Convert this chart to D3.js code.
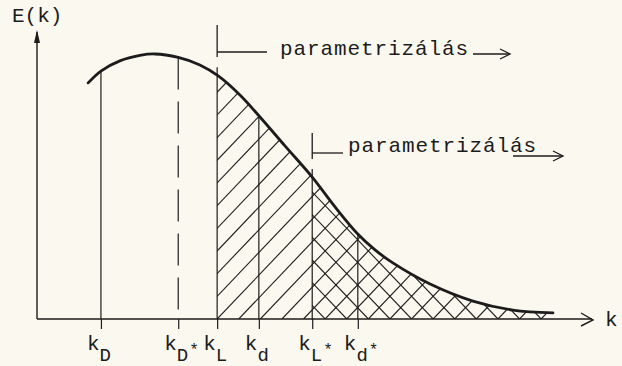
<!DOCTYPE html>
<html>
<head>
<meta charset="utf-8">
<script src="https://cdn.jsdelivr.net/npm/d3@7"></script>
<style>
  html, body { margin: 0; padding: 0; background: #fbf8f0; }
  svg { display: block; }
  text { font-family: "Liberation Mono", "DejaVu Sans Mono", monospace; fill: #1c1c1c; }
</style>
</head>
<body>
<svg id="chart" width="622" height="366"></svg>
<script>
// E(k) curve, sampled along k (arbitrary units 0..100)
const curveK = [9.2, 11.5, 14.9, 18.5, 21.2, 25.4, 29.3, 32.6, 36.5, 40.1, 44.6, 49.5, 53.6, 57.7, 60.8, 64.0, 70.7, 78.4, 85.6, 92.8];
const curveE = [81.7, 85.8, 89.3, 91.2, 91.7, 90.5, 87.9, 84.1, 77.5, 69.9, 59.9, 49.1, 38.8, 29.4, 23.9, 19.4, 12.1, 6.2, 3.1, 2.1];

// characteristic wave numbers on the k axis
const markerK     = [11.5, 25.4, 32.4, 39.9, 49.5, 57.7];
const markerSub   = ["D", "D", "L", "d", "L", "d"];
const markerStar  = [false, true, false, false, true, true];
const markerDash  = [false, true, false, false, false, false];

// parametrised ranges start at k_L and k_L*
const paramStartK = [32.4, 49.5];
const paramLabel  = ["parametrizálás", "parametrizálás"];

const ink = "#1c1c1c";
const svg = d3.select("#chart");

const x = d3.scaleLinear().domain([0, 100]).range([37, 593]);
const y = d3.scaleLinear().domain([0, 100]).range([319, 30]);

const pts = curveK.map((k, i) => [k, curveE[i]]);
const kEnd = curveK[curveK.length - 1];

// linear lookup of E at k
function eAt(k) {
  const i = Math.max(1, Math.min(curveK.length - 1, d3.bisectLeft(curveK, k)));
  const t = (k - curveK[i - 1]) / (curveK[i] - curveK[i - 1]);
  return curveE[i - 1] + t * (curveE[i] - curveE[i - 1]);
}

const line = d3.line().x(d => x(d[0])).y(d => y(d[1])).curve(d3.curveCatmullRom.alpha(0.5));
const area = d3.area().x(d => x(d[0])).y0(y(0)).y1(d => y(d[1])).curve(d3.curveCatmullRom.alpha(0.5));

const defs = svg.append("defs");
defs.append("clipPath").attr("id", "under").append("path").attr("d", area(pts));
paramStartK.forEach((k, i) => {
  defs.append("clipPath").attr("id", "from" + i).append("rect")
    .attr("x", x(k)).attr("y", 0).attr("width", x(kEnd) - x(k) + 2).attr("height", y(0));
});

// hatching: "/" from k_L, additional "\" from k_L*
const step = 21.6, slope = 1.05, base = y(0);
const offsets = d3.range(-20, 25).map(n => x(paramStartK[0]) + n * step);

const hatchA = svg.append("g").attr("clip-path", "url(#from0)")
  .append("g").attr("clip-path", "url(#under)");
hatchA.selectAll("line").data(offsets).join("line")
  .attr("x1", d => d).attr("y1", base)
  .attr("x2", d => d + 320).attr("y2", base - 320 * slope)
  .attr("stroke", ink).attr("stroke-width", 1.1);

const hatchB = svg.append("g").attr("clip-path", "url(#from1)")
  .append("g").attr("clip-path", "url(#under)");
hatchB.selectAll("line").data(offsets).join("line")
  .attr("x1", d => d).attr("y1", base)
  .attr("x2", d => d - 320).attr("y2", base - 320 * slope)
  .attr("stroke", ink).attr("stroke-width", 1.1);

// marker verticals, from the curve down through the axis
const markers = markerK.map((k, i) => ({ k, sub: markerSub[i], star: markerStar[i], dash: markerDash[i],
  param: paramStartK.includes(k) }));
svg.append("g").selectAll("line").data(markers).join("line")
  .attr("x1", d => x(d.k)).attr("x2", d => x(d.k))
  .attr("y1", d => y(eAt(d.k)) - (d.param ? 8 : 0))
  .attr("y2", y(0))
  .attr("stroke", ink).attr("stroke-width", 1.2)
  .attr("stroke-dasharray", d => d.dash ? "32,12" : null);

// x axis with ticks at the markers
const xAxis = d3.axisBottom(x).tickValues(markerK).tickSize(10).tickSizeOuter(0).tickFormat("");
const gx = svg.append("g").attr("transform", `translate(0,${y(0)})`).call(xAxis);
gx.select(".domain").attr("stroke", ink).attr("stroke-width", 1.4).attr("d", `M${x(0)},0H${x(100) - 1}`);
gx.selectAll(".tick line").attr("stroke", ink).attr("stroke-width", 1.2);

// y axis
svg.append("line").attr("x1", x(0)).attr("x2", x(0)).attr("y1", y(0)).attr("y2", y(100) + 2)
  .attr("stroke", ink).attr("stroke-width", 1.4);
svg.append("path")
  .attr("d", `M${x(0)},${y(100)}L${x(0) - 3},${y(100) + 13}L${x(0) + 3},${y(100) + 13}Z`)
  .attr("fill", ink);
// x axis arrow head
svg.append("path")
  .attr("d", `M${x(100) - 12},${y(0) - 6}L${x(100)},${y(0) + 1}L${x(100) - 12},${y(0) + 7}`)
  .attr("fill", "none").attr("stroke", ink).attr("stroke-width", 1.4);

// E(k) curve
svg.append("path").attr("d", line(pts)).attr("fill", "none")
  .attr("stroke", ink).attr("stroke-width", 2.8).attr("stroke-linecap", "round");

// axis titles
svg.append("text").attr("x", 12).attr("y", 22).attr("font-size", 21).text("E(k)");
svg.append("text").attr("x", 605).attr("y", 326).attr("font-size", 21).text("k");

// marker labels: k with subscript and optional star
const lab = svg.append("g").selectAll("text").data(markers).join("text")
  .attr("x", d => x(d.k) - 14).attr("y", 350).attr("font-size", 21);
lab.append("tspan").text("k");
lab.append("tspan").attr("dy", 11).attr("font-size", 19).text(d => d.sub);
lab.filter(d => d.star).append("tspan").attr("dy", -6).attr("dx", 1).attr("font-size", 16).text("*");

// "parametrizálás" brackets with arrows
const brackets = [
  { k: paramStartK[0], top: 25, bottom: 57, hy: 52, lineEnd: 267, tx: 280, ty: 55, a0: 473, a1: 510, ay: 54, text: paramLabel[0] },
  { k: paramStartK[1], top: 133, bottom: 159, hy: 153, lineEnd: 343, tx: 348, ty: 152, a0: 513, a1: 563, ay: 156, text: paramLabel[1] }
];
brackets.forEach(b => {
  const g = svg.append("g").attr("stroke", ink).attr("stroke-width", 1.3).attr("fill", "none");
  g.append("line").attr("x1", x(b.k)).attr("x2", x(b.k)).attr("y1", b.top).attr("y2", b.bottom);
  g.append("line").attr("x1", x(b.k)).attr("x2", b.lineEnd).attr("y1", b.hy).attr("y2", b.hy);
  g.append("line").attr("x1", b.a0).attr("x2", b.a1).attr("y1", b.ay).attr("y2", b.ay);
  g.append("path").attr("d", `M${b.a1 - 10},${b.ay - 5}L${b.a1},${b.ay}L${b.a1 - 10},${b.ay + 5}`);
  svg.append("text").attr("x", b.tx).attr("y", b.ty).attr("font-size", 21)
    .attr("letter-spacing", 0.9).text(b.text);
});
</script>
</body>
</html>
